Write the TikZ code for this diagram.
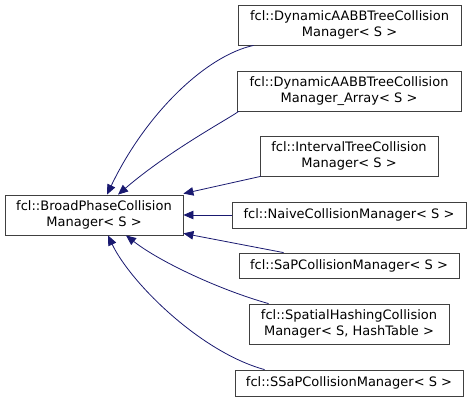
\documentclass[tikz,border=0pt]{standalone}
\usepackage{fontspec}
\setmainfont{DejaVu Sans}
\usepackage{xcolor}
\usepackage{tikz}
\usetikzlibrary{arrows.meta}
\definecolor{edgeblue}{RGB}{25,25,112}

\begin{document}
\begin{tikzpicture}[x=1pt, y=1pt, line width=0.8pt,
    cls/.style={draw=black!75, fill=white, align=center, inner sep=0pt,
                font=\fontsize{13}{15.5}\selectfont},
    inherit/.style={edgeblue, -{Triangle[length=10pt,width=8.5pt]}}]
  \useasboundingbox (0,0) rectangle (472,402);
  % base class
  \node[cls, minimum width=178, minimum height=40] (broad) at (94,187)
    {fcl::BroadPhaseCollision\\Manager< S >};
  % derived classes
  \node[cls, minimum width=223, minimum height=40] (dyn) at (349.5,377)
    {fcl::DynamicAABBTreeCollision\\Manager< S >};
  \node[cls, minimum width=224, minimum height=40] (dynarr) at (349,311)
    {fcl::DynamicAABBTreeCollision\\Manager\_Array< S >};
  \node[cls, minimum width=178, minimum height=40] (interval) at (349,246)
    {fcl::IntervalTreeCollision\\Manager< S >};
  \node[cls, minimum width=234, minimum height=26] (naive) at (349,187)
    {fcl::NaiveCollisionManager< S >};
  \node[cls, minimum width=220, minimum height=25] (sap) at (349,136.5)
    {fcl::SaPCollisionManager< S >};
  \node[cls, minimum width=200, minimum height=40] (spatial) at (349,78)
    {fcl::SpatialHashingCollision\\Manager< S, HashTable >};
  \node[cls, minimum width=228, minimum height=26] (ssap) at (349,19)
    {fcl::SSaPCollisionManager< S >};
  % inheritance edges
  \draw[inherit] ([xshift=16pt]dyn.south west) .. controls (205,346) and (145,287)
    .. ([xshift=13pt]broad.north);
  \draw[inherit] ([xshift=2pt]dynarr.south west) .. controls (230,284) and (170,252)
    .. ([xshift=24pt]broad.north);
  \draw[inherit] ([xshift=1pt]interval.south west) -- ([yshift=1pt]broad.north east);
  \draw[inherit] (naive.west) -- (broad.east);
  \draw[inherit] ([xshift=45pt]sap.north west) -- ([yshift=2pt]broad.south east);
  \draw[inherit] ([xshift=20pt]spatial.north west) .. controls (220,112) and (160,140)
    .. ([xshift=32pt]broad.south);
  \draw[inherit] ([xshift=30pt]ssap.north west) .. controls (200,50) and (130,120)
    .. ([xshift=14pt]broad.south);
\end{tikzpicture}
\end{document}
